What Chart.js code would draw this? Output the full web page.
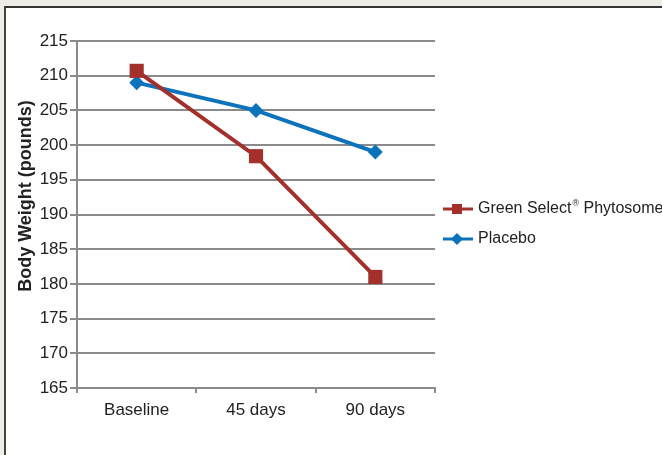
<!DOCTYPE html>
<html lang="en">
<head>
    <meta charset="UTF-8">
    <title>Body Weight</title>
    <style>
        body { margin: 0; background: #efebe6; width: 662px; height: 455px; overflow: hidden; position: relative; }
        .frame { position: absolute; left: 4px; top: 6px; width: 700px; height: 500px; background: #fff; border-top: 2px solid #333; border-left: 2px solid #444; }
        #chart { position: absolute; left: 0; top: 0; }
    </style>
</head>
<body>
    <div class="frame"></div>
    <canvas id="chart" width="662" height="455"></canvas>

    <script src="https://cdn.jsdelivr.net/npm/chart.js"></script>
    <script>
        const labels = ["Baseline", "45 days", "90 days"];
        const greenSelect = [210.7, 198.4, 181.0];
        const placebo = [209.0, 205.0, 199.0];
        const yTicks = [165, 170, 175, 180, 185, 190, 195, 200, 205, 210, 215];
        const yTitle = "Body Weight (pounds)";

        const RED = "#a3302b";
        const BLUE = "#0b72bc";
        const GRID = "#8a8a8a";
        const FONT = "Liberation Sans";

        // y title + custom legend (line with marker)
        const extras = {
            id: "extras",
            afterDraw(chart) {
                const ctx = chart.ctx;
                ctx.save();
                ctx.fillStyle = "#222";
                ctx.font = "bold 18px '" + FONT + "'";
                ctx.translate(31, 196);
                ctx.rotate(-Math.PI / 2);
                ctx.textAlign = "center";
                ctx.textBaseline = "alphabetic";
                ctx.fillText(yTitle, 0, 0);
                ctx.restore();

                const rows = [209, 239];
                chart.data.datasets.forEach((ds, i) => {
                    const y = rows[i];
                    ctx.save();
                    ctx.strokeStyle = ds.borderColor;
                    ctx.lineWidth = 3;
                    ctx.beginPath();
                    ctx.moveTo(443, y);
                    ctx.lineTo(473, y);
                    ctx.stroke();
                    ctx.fillStyle = ds.borderColor;
                    if (ds.pointStyle === "rect") {
                        ctx.fillRect(452, y - 5, 10, 10);
                    } else {
                        ctx.beginPath();
                        ctx.moveTo(457, y - 6);
                        ctx.lineTo(463, y);
                        ctx.lineTo(457, y + 6);
                        ctx.lineTo(451, y);
                        ctx.closePath();
                        ctx.fill();
                    }
                    ctx.fillStyle = "#222";
                    ctx.textBaseline = "middle";
                    ctx.textAlign = "left";
                    let x = 478;
                    const parts = ds.label.split("®");
                    ctx.font = "16px '" + FONT + "'";
                    ctx.fillText(parts[0], x, y);
                    x += ctx.measureText(parts[0]).width;
                    if (parts.length > 1) {
                        ctx.font = "9px '" + FONT + "'";
                        ctx.fillText("®", x + 1, y - 5);
                        x += ctx.measureText("®").width + 1;
                        ctx.font = "16px '" + FONT + "'";
                        ctx.fillText(parts[1], x, y);
                    }
                    ctx.restore();
                });
            }
        };

        new Chart(document.getElementById("chart"), {
            type: "line",
            data: {
                labels: labels,
                datasets: [
                    {
                        label: "Green Select® Phytosome",
                        data: greenSelect,
                        borderColor: RED,
                        backgroundColor: RED,
                        borderWidth: 4,
                        pointStyle: "rect",
                        pointRadius: 10,
                        pointBorderWidth: 0,
                        tension: 0
                    },
                    {
                        label: "Placebo",
                        data: placebo,
                        borderColor: BLUE,
                        backgroundColor: BLUE,
                        borderWidth: 4,
                        pointStyle: "rectRot",
                        pointRadius: 7.5,
                        pointBorderWidth: 0,
                        tension: 0
                    }
                ]
            },
            plugins: [extras],
            options: {
                responsive: false,
                animation: false,
                layout: { padding: { left: 0, top: 41, right: 227, bottom: 0 } },
                plugins: {
                    legend: { display: false },
                    tooltip: { enabled: false }
                },
                scales: {
                    x: {
                        offset: true,
                        afterFit(scale) { scale.height = 67; },
                        grid: { offset: true, drawOnChartArea: false, drawTicks: true, tickLength: 5, color: GRID, lineWidth: 2 },
                        border: { color: GRID, width: 2 },
                        ticks: { color: "#222", font: { family: FONT, size: 17 }, padding: 7 }
                    },
                    y: {
                        min: 165,
                        max: 215,
                        afterFit(scale) { scale.width = 77; },
                        afterBuildTicks(scale) { scale.ticks = yTicks.map(v => ({ value: v })); },
                        grid: { color: GRID, lineWidth: 2, drawTicks: true, tickLength: 7 },
                        border: { color: GRID, width: 2 },
                        ticks: { color: "#222", font: { family: FONT, size: 17 }, padding: 2 }
                    }
                }
            }
        });
    </script>
</body>
</html>
